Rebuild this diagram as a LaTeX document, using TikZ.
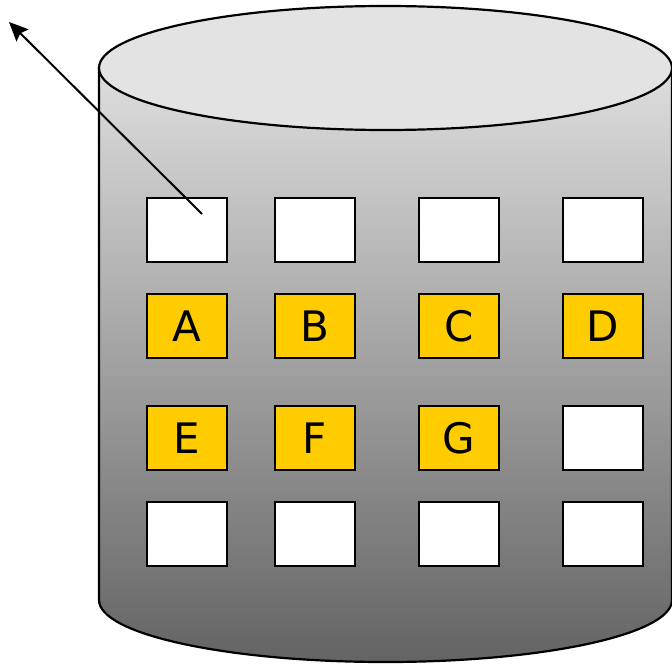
\documentclass[tikz,border=0pt]{standalone}
\usepackage{fontspec}
\setmainfont{DejaVu Sans}
\usetikzlibrary{arrows.meta,calc}
\definecolor{slotyellow}{HTML}{FFCC00}
\definecolor{lidgray}{HTML}{E3E3E3}
\tikzset{
    slot/.style =   {rectangle,
                    fill=white,
                    draw=black,
                    text=black,
                    line width=1.1pt,
                    minimum width=40pt,
                    minimum height=32pt,
                    inner sep=0pt},
    full/.style =   {slot,
                    fill=slotyellow,
                    font=\fontsize{21}{24}\selectfont},
    rim/.style =    {draw=black,
                    line width=1.1pt},
    -,
    >={Stealth[length=9.5pt,width=8.5pt,inset=1.5pt]},
    draw=black}

\begin{document}
\begin{tikzpicture}[x=0.5pt,y=-0.5pt]
                \useasboundingbox (0,0) rectangle (672,663);
                % drum body and lid
                \path [rim,top color=black!13,bottom color=black!61]
                        (99,68) -- (99,600)
                        arc [start angle=180,end angle=0,x radius=286.5,y radius=62]
                        -- (672,68) -- cycle;
                \draw [rim,fill=lidgray] (385.5,68) ellipse [x radius=286.5,y radius=62];
                % slots
                \node[slot]   (s1)  at (187,230) {};
                \node[slot]   (s2)  at (315,230) {};
                \node[slot]   (s3)  at (459,230) {};
                \node[slot]   (s4)  at (603,230) {};
                \node[full]   (A)   at (187,326) {A};
                \node[full]   (B)   at (315,326) {B};
                \node[full]   (C)   at (459,326) {C};
                \node[full]   (D)   at (603,326) {D};
                \node[full]   (E)   at (187,438) {E};
                \node[full]   (F)   at (315,438) {F};
                \node[full]   (G)   at (459,438) {G};
                \node[slot]   (s8)  at (603,438) {};
                \node[slot]   (s9)  at (187,534) {};
                \node[slot]   (s10) at (315,534) {};
                \node[slot]   (s11) at (459,534) {};
                \node[slot]   (s12) at (603,534) {};
                % pointer out of the first slot
                \coordinate (from) at (202,214);
                \coordinate (out)  at (9,22);
                \draw [line width=1pt,->] (from) -- (out);
        \end{tikzpicture}
\end{document}
